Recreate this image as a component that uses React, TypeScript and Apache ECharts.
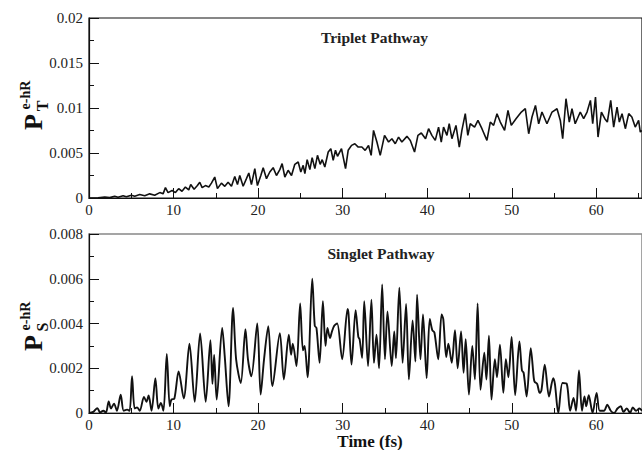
import React, { useEffect, useRef } from "react";
import * as echarts from "echarts";

// Triplet pathway: time (fs) and population
const tripletT = [
  0, 1.07, 1.86, 2.45, 3.04, 3.43, 4.03, 4.42, 5.01, 5.41, 6.0, 6.59, 7.18, 7.77, 8.37, 8.76, 9.04, 9.35, 9.83,
  10.22, 10.6, 11.0, 11.4, 11.8, 12.03, 12.43, 12.82, 13.1, 13.38, 13.77, 14.17, 14.48, 14.87, 15.19, 15.66,
  16.06, 16.45, 16.85, 17.24, 17.56, 17.83, 18.23, 18.62, 18.9, 19.21, 19.61, 19.92, 20.32, 20.6, 20.99, 21.38,
  21.78, 22.17, 22.57, 22.84, 23.16, 23.55, 23.95, 24.34, 24.74, 25.05, 25.33, 25.53, 25.8, 26.12, 26.39, 26.71,
  27.02, 27.34, 27.58, 27.89, 28.29, 28.6, 28.88, 29.15, 29.39, 29.86, 30.34, 30.65, 31.05, 31.44, 31.84,
  32.27, 32.66, 33.06, 33.37, 33.65, 34.05, 34.44, 34.95, 35.43, 35.82, 36.22, 36.61, 37.0, 37.6, 38.0, 38.5,
  38.9, 39.3, 39.8, 40.16, 40.55, 40.95, 41.34, 41.66, 41.93, 42.33, 42.6, 42.92, 43.4, 43.79, 44.1, 44.5, 44.8,
  45.09, 45.6, 46.0, 46.47, 47.06, 47.46, 47.85, 48.25, 48.64, 49.15, 49.55, 49.94, 50.5, 51.13, 51.6, 52.0,
  52.39, 52.8, 53.18, 53.57, 54.16, 54.76, 55.35, 55.74, 56.02, 56.41, 56.8, 57.12, 57.5, 58.1, 58.5, 58.9,
  59.3, 59.57, 59.9, 60.2, 60.6, 61.0, 61.3, 61.7, 62.05, 62.45, 62.72, 63.04, 63.43, 63.83, 64.2, 64.6, 65.0,
  65.2, 65.4,
];
const tripletP = [
  0, 0.00002, 0.0001, 0.00004, 0.0002, 0.00008, 0.00024, 0.00013, 0.00031, 0.0002, 0.00038, 0.00024, 0.00046,
  0.00031, 0.0006, 0.00046, 0.00115, 0.0006, 0.00083, 0.0006, 0.00104, 0.00075, 0.00122, 0.0009, 0.00149,
  0.00098, 0.00138, 0.00175, 0.00115, 0.00138, 0.00122, 0.00165, 0.00233, 0.00104, 0.00165, 0.0013, 0.00175,
  0.0013, 0.0024, 0.00149, 0.0025, 0.0013, 0.00215, 0.00278, 0.00149, 0.00326, 0.00138, 0.0025, 0.00337,
  0.00215, 0.00289, 0.00337, 0.0025, 0.00315, 0.00382, 0.00233, 0.00308, 0.0025, 0.00374, 0.004, 0.00289,
  0.00363, 0.0027, 0.00426, 0.00315, 0.00448, 0.00326, 0.00474, 0.00374, 0.00426, 0.00345, 0.00511, 0.00548,
  0.00419, 0.0053, 0.00463, 0.00548, 0.00326, 0.0053, 0.00585, 0.00603, 0.00566,
  0.00566, 0.00529, 0.00584, 0.00474, 0.00751, 0.00622, 0.00474, 0.00696, 0.00622, 0.00659, 0.00603, 0.00677,
  0.00622, 0.00685, 0.0064, 0.00511, 0.00696, 0.00722, 0.00659, 0.0077, 0.00696, 0.0064, 0.00788, 0.00622,
  0.00788, 0.00696, 0.00825, 0.00659, 0.00807, 0.00566, 0.00751, 0.00937, 0.00696, 0.00825, 0.00788, 0.00862,
  0.0077, 0.0064, 0.00844, 0.00807, 0.00937, 0.00844, 0.00751, 0.00974, 0.00807, 0.00881, 0.00955, 0.00992,
  0.00714, 0.009, 0.01029, 0.00825, 0.00955, 0.00825, 0.00955, 0.00992, 0.00862, 0.00659, 0.01103, 0.00844,
  0.00992, 0.00825, 0.00955, 0.00881, 0.00955, 0.01085, 0.00825, 0.01121, 0.00677, 0.00955, 0.00881, 0.00844,
  0.01085, 0.00788, 0.0101, 0.00844, 0.00937, 0.0077, 0.00937, 0.009, 0.00788, 0.00862, 0.00733, 0.0075,
];

// Singlet pathway: time (fs) and population
const singletT = [
  0, 0.5, 0.99, 1.3, 1.7, 2.0, 2.33, 2.6, 2.96, 3.3, 3.75, 4.1, 4.5, 4.8, 5.09, 5.4, 5.7, 6.0, 6.5, 6.8, 7.05,
  7.4, 7.85, 8.2, 8.5, 8.8, 9.2, 9.55, 9.75, 10.1, 10.6, 11.2, 11.88, 12.5, 13.14, 13.8, 14.36, 14.6, 14.8,
  15.1, 15.75, 16.06, 16.5, 17.04, 17.4, 17.95, 18.5, 18.8, 19.2, 19.9, 20.3, 20.7, 21.2, 21.7, 22.57, 23.04,
  23.63, 23.9, 24.1, 24.54, 24.97, 25.3, 25.5, 25.85, 26.4, 26.7, 26.9, 27.27, 27.66, 27.97, 28.2, 28.5, 28.7,
  29.0, 29.35, 29.94, 30.58, 30.7, 31.05, 31.53, 31.85, 32.0, 32.3, 32.55, 33.0, 33.4, 33.7, 34.0, 34.3, 34.67,
  35.0, 35.3, 35.8, 36.1, 36.3, 36.7, 37.09, 37.5, 37.83, 38.27, 38.6, 38.8, 39.2, 39.5, 39.93, 40.3, 40.6,
  40.85, 41.3, 41.7, 41.9, 42.25, 42.5, 42.9, 43.28, 43.6, 44.0, 44.3, 44.55, 44.93, 45.33, 45.64, 45.96,
  46.3, 46.75, 47.0, 47.3, 47.6, 48.0, 48.25, 48.6, 49.0, 49.3, 49.6, 49.98, 50.4, 50.9, 51.2, 51.4, 51.76,
  52.24, 52.6, 52.7, 53.0, 53.3, 53.5, 53.9, 54.4, 54.9, 55.1, 55.5, 56.0, 56.5, 56.9, 57.3, 57.6, 57.95, 58.3,
  58.6, 58.8, 59.1, 59.55, 60.03, 60.4, 60.9, 61.3, 61.7, 62.1, 62.5, 62.9, 63.2, 63.6, 64.0, 64.3, 64.7,
  65.1, 65.4,
];
const singletP = [
  0, 0.00005, 0.00022, 0.00003, 0.0001, 0.00002, 0.00052, 0.0002, 0.00042, 0.0001, 0.00082, 0.0001, 0.00015,
  0.0001, 0.00164, 0.0002, 0.00025, 0.0001, 0.00072, 0.0005, 0.00078, 0.0001, 0.00156, 0.0002, 0.00045,
  0.0001, 0.00264, 0.0003, 0.0006, 0.00065, 0.00186, 0.00065, 0.0031, 0.0005, 0.00355, 0.0005, 0.00325,
  0.0013, 0.0026, 0.0006, 0.0038, 0.0025, 0.0003, 0.0047, 0.0024, 0.00134, 0.00375, 0.0024, 0.00164, 0.004,
  0.00082, 0.0024, 0.00388, 0.0012, 0.00357, 0.0015, 0.0035, 0.0026, 0.0031, 0.0021, 0.0049, 0.0028, 0.003,
  0.0016, 0.006, 0.0039, 0.0038, 0.00224, 0.005, 0.003, 0.0038, 0.00335, 0.0036, 0.0039, 0.004, 0.0024,
  0.00465, 0.0044, 0.00216, 0.0046, 0.0034, 0.0033, 0.00246, 0.005, 0.0021, 0.00506, 0.00224, 0.0035, 0.002,
  0.00574, 0.0024, 0.00454, 0.0021, 0.00365, 0.00245, 0.0056, 0.00224, 0.00487, 0.0015, 0.00414, 0.0023,
  0.00529, 0.0024, 0.0044, 0.00156, 0.0042, 0.0037, 0.0036, 0.0024, 0.0044, 0.0042, 0.0025, 0.0031, 0.00224,
  0.0037, 0.002, 0.00365, 0.0018, 0.0033, 0.00082, 0.003, 0.0015, 0.0049, 0.00104, 0.0027, 0.0015, 0.00345,
  0.0006, 0.0024, 0.0016, 0.00305, 0.0009, 0.0024, 0.0016, 0.0034, 0.0008, 0.0032, 0.0019, 0.0018, 0.00074,
  0.0029, 0.00156, 0.0014, 0.0013, 0.0009, 0.001, 0.00216, 0.00074, 0.00156, 0.0013, 0, 0.00134, 0.0013,
  0.0001, 0.00067, 0.0001, 0.0019, 0.0001, 0.00074, 0.0003, 0.0008, 0, 0.0009, 0.0001, 0.0001, 0.00037,
  0.0001, 0, 0.0002, 0.0003, 0.00005, 0.0002, 0, 0.00025, 0.0001, 0.0002, 0.0001,
];

const xMin = 0;
const xMax = 65.4;
const tripletYMax = 0.02;
const singletYMax = 0.008;
const panelTitles = ["Triplet Pathway", "Singlet Pathway"];
const xTitle = "Time (fs)";

const SERIF = "'Liberation Serif', 'DejaVu Serif', serif";

export default function App() {
  const ref = useRef<HTMLDivElement>(null);
  useEffect(() => {
    if (!ref.current) return;
    const chart = echarts.init(ref.current, undefined, { renderer: "svg" });
    const zip = (t: number[], p: number[]) => t.map((v, i) => [v, p[i]]);

    const xAxisBase = (gi: number) => ({
      gridIndex: gi,
      type: "value" as const,
      min: xMin,
      max: xMax,
      interval: 10,
      axisLine: { show: true, lineStyle: { color: "#111", width: 1.2 } },
      axisTick: { show: true, inside: true, length: 10, lineStyle: { color: "#111", width: 1 } },
      minorTick: { show: true, splitNumber: 2, length: 5, lineStyle: { color: "#111", width: 1 } },
      axisLabel: {
        fontFamily: SERIF,
        fontSize: 15,
        color: "#222",
        margin: 4,
        showMaxLabel: false,
      },
      splitLine: { show: false },
    });
    const yAxisBase = (gi: number, max: number, interval: number) => ({
      gridIndex: gi,
      type: "value" as const,
      min: 0,
      max,
      interval,
      axisLine: { show: true, lineStyle: { color: "#111", width: 1.2 } },
      axisTick: { show: true, inside: true, length: 10, lineStyle: { color: "#111", width: 1 } },
      minorTick: { show: true, splitNumber: 2, length: 5, lineStyle: { color: "#111", width: 1 } },
      axisLabel: { fontFamily: SERIF, fontSize: 15, color: "#222", margin: 6 },
      splitLine: { show: false },
    });

    const rot = Math.PI / 2;
    const yLabel = (cy: number, sub: string) => [
      {
        type: "text",
        x: 33,
        y: cy,
        rotation: rot,
        style: { text: "P", font: `bold 26px ${SERIF}`, fill: "#111", align: "center", verticalAlign: "middle" },
      },
      {
        type: "text",
        x: 42,
        y: cy - 16,
        rotation: rot,
        style: { text: sub, font: `bold 16px ${SERIF}`, fill: "#111", align: "center", verticalAlign: "middle" },
      },
      {
        type: "text",
        x: 25,
        y: cy - 27,
        rotation: rot,
        style: { text: "e-hR", font: `bold 14px ${SERIF}`, fill: "#111", align: "center", verticalAlign: "middle" },
      },
    ];

    chart.setOption({
      animation: false,
      backgroundColor: "#fff",
      grid: [
        { left: 89, top: 18, right: -2, height: 180, show: true, borderColor: "#111", borderWidth: 1.2 },
        { left: 89, top: 234, right: -2, height: 179, show: true, borderColor: "#888", borderWidth: 1.5 },
      ],
      xAxis: [xAxisBase(0), xAxisBase(1)],
      yAxis: [yAxisBase(0, tripletYMax, 0.005), yAxisBase(1, singletYMax, 0.002)],
      series: [
        {
          type: "line",
          xAxisIndex: 0,
          yAxisIndex: 0,
          data: zip(tripletT, tripletP),
          showSymbol: false,
          lineStyle: { color: "#111", width: 1.6 },
        },
        {
          type: "line",
          xAxisIndex: 1,
          yAxisIndex: 1,
          data: zip(singletT, singletP),
          showSymbol: false,
          smooth: 0.3,
          lineStyle: { color: "#111", width: 1.9 },
        },
      ],
      graphic: [
        {
          type: "text",
          x: 374.5,
          y: 37,
          style: { text: panelTitles[0], font: `bold 15.5px ${SERIF}`, fill: "#222", align: "center", verticalAlign: "middle" },
        },
        {
          type: "text",
          x: 381,
          y: 253,
          style: { text: panelTitles[1], font: `bold 15.5px ${SERIF}`, fill: "#222", align: "center", verticalAlign: "middle" },
        },
        {
          type: "text",
          x: 370,
          y: 441,
          style: { text: xTitle, font: `bold 17px ${SERIF}`, fill: "#111", align: "center", verticalAlign: "middle" },
        },
        ...yLabel(122, "T"),
        ...yLabel(343, "S"),
      ],
    });
    return () => chart.dispose();
  }, []);
  return (
    <div
      ref={ref}
      style={{ position: "fixed", left: 0, top: 0, width: 642, height: 450, background: "#fff" }}
    />
  );
}
